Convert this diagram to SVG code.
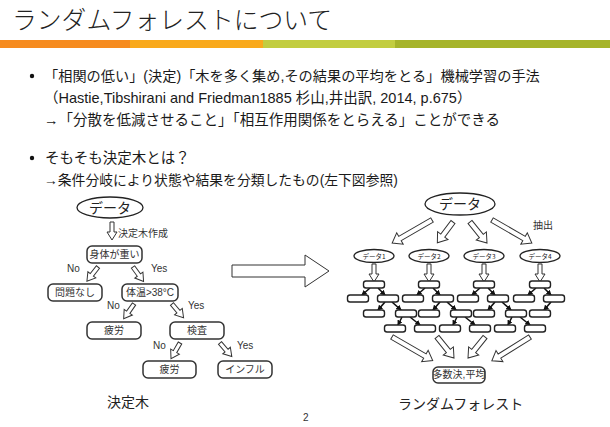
<svg xmlns="http://www.w3.org/2000/svg" xmlns:xlink="http://www.w3.org/1999/xlink" width="610" height="427" viewBox="0 0 610 427">
<defs>
<style>
.t{font-family:"Liberation Sans","Noto Sans CJK JP",sans-serif;fill:#1a1a1a;}
.jp{font-family:"Noto Sans CJK JP",sans-serif;fill:#222;}
.lbl{font-family:"Liberation Sans","Noto Sans CJK JP",sans-serif;fill:#333;font-size:10px;}
.box{fill:#fff;stroke:#333;stroke-width:1.5;}
.fb{fill:#fff;stroke:#222;stroke-width:1.4;}
.ell{fill:#fff;stroke:#222;stroke-width:1.3;}
.ha{fill:#fff;stroke:#333;stroke-width:1;}
.cn{stroke:#111;stroke-width:1.6;fill:none;marker-end:url(#ah);}
</style>
<marker id="ah" viewBox="0 0 6 6" refX="5" refY="3" markerWidth="3.5" markerHeight="3.5" orient="auto">
<path d="M0,0 L6,3 L0,6 Z" fill="#111"/>
</marker>
<path id="arrS" d="M0,-2 H10 V-5 L18,0 L10,5 V2 H0 Z"/>
</defs>
<rect width="610" height="427" fill="#fff"/>

<g id="title">
<text x="12" y="29" class="jp" style="font-size:24.8px;font-weight:300;fill:#222">ランダムフォレストについて</text>
<rect x="0" y="40" width="130" height="8" fill="#F68B1F"/>
<rect x="130" y="40" width="133" height="8" fill="#F9A91B"/>
<rect x="263" y="40" width="132" height="8" fill="#C2CD40"/>
<rect x="395" y="40" width="215" height="8" fill="#A6B42A"/>
</g>

<g id="bullets">
<circle cx="32" cy="76" r="2.2" fill="#111"/>
<text x="44" y="81" class="t" font-size="14.2">「相関の低い」(決定)「木を多く集め,その結果の平均をとる」機械学習の手法</text>
<text x="44" y="103" class="t" font-size="14.5">（Hastie,Tibshirani and Friedman1885 杉山,井出訳, 2014, p.675）</text>
<text x="44" y="125" class="t" font-size="14.5">→「分散を低減させること」「相互作用関係をとらえる」ことができる</text>
<circle cx="32" cy="158" r="2.2" fill="#111"/>
<text x="45" y="163" class="t" font-size="14.5">そもそも決定木とは？</text>
<text x="44" y="185" class="t" font-size="13.8">→条件分岐により状態や結果を分類したもの(左下図参照)</text>
</g>

<g id="connectors">
<use xlink:href="#arrS" class="ha" transform="translate(112,222) rotate(90)"/>
<use xlink:href="#arrS" class="ha" transform="translate(98,267) rotate(128)"/>
<use xlink:href="#arrS" class="ha" transform="translate(133,267) rotate(54)"/>
<use xlink:href="#arrS" class="ha" transform="translate(134,304) rotate(125)"/>
<use xlink:href="#arrS" class="ha" transform="translate(172,304) rotate(50)"/>
<use xlink:href="#arrS" class="ha" transform="translate(180,343) rotate(120)"/>
<use xlink:href="#arrS" class="ha" transform="translate(220,343) rotate(49)"/>
<path d="M232,265 H305 V255 L329,271 L305,287 V277 H232 Z" class="ha" stroke-width="1.2"/>
<path d="M0,-2.5 H37 V-6.5 L46,0 L37,6.5 V2.5 H0 Z" class="ha" transform="translate(432,220) rotate(150)"/>
<path d="M0,-2.5 H17 V-6.5 L26,0 L17,6.5 V2.5 H0 Z" class="ha" transform="translate(453,222) rotate(127)"/>
<path d="M0,-2.5 H18 V-6.5 L27,0 L18,6.5 V2.5 H0 Z" class="ha" transform="translate(470,222) rotate(51)"/>
<path d="M0,-2.5 H37 V-6.5 L46,0 L37,6.5 V2.5 H0 Z" class="ha" transform="translate(492,220) rotate(30)"/>
<use xlink:href="#arrS" class="ha" transform="translate(374,264) rotate(90)"/>
<use xlink:href="#arrS" class="ha" transform="translate(429,264) rotate(90)"/>
<use xlink:href="#arrS" class="ha" transform="translate(484,264) rotate(90)"/>
<use xlink:href="#arrS" class="ha" transform="translate(540,264) rotate(90)"/>
<line class="cn" x1="370" y1="288" x2="362" y2="295"/><line class="cn" x1="378" y1="288" x2="385" y2="295"/>
<line class="cn" x1="385" y1="302" x2="378" y2="310"/><line class="cn" x1="392" y1="302" x2="401" y2="310"/>
<line class="cn" x1="402" y1="317" x2="398" y2="325"/><line class="cn" x1="410" y1="317" x2="420" y2="325"/>
<line class="cn" x1="425" y1="288" x2="417" y2="295"/><line class="cn" x1="433" y1="288" x2="440" y2="295"/>
<line class="cn" x1="440" y1="302" x2="433" y2="310"/><line class="cn" x1="447" y1="302" x2="456" y2="310"/>
<line class="cn" x1="457" y1="317" x2="453" y2="325"/><line class="cn" x1="465" y1="317" x2="475" y2="325"/>
<line class="cn" x1="480" y1="288" x2="472" y2="295"/><line class="cn" x1="488" y1="288" x2="495" y2="295"/>
<line class="cn" x1="495" y1="302" x2="488" y2="310"/><line class="cn" x1="502" y1="302" x2="511" y2="310"/>
<line class="cn" x1="512" y1="317" x2="508" y2="325"/><line class="cn" x1="520" y1="317" x2="530" y2="325"/>
<line class="cn" x1="536" y1="288" x2="528" y2="295"/><line class="cn" x1="544" y1="288" x2="551" y2="295"/>
<line class="cn" x1="551" y1="302" x2="544" y2="310"/>
<path d="M0,-2.5 H38 V-6.5 L47,0 L38,6.5 V2.5 H0 Z" class="ha" transform="translate(392,337) rotate(30)"/>
<path d="M0,-2.5 H18 V-6.5 L27,0 L18,6.5 V2.5 H0 Z" class="ha" transform="translate(437,337) rotate(51)"/>
<path d="M0,-2.5 H18 V-6.5 L27,0 L18,6.5 V2.5 H0 Z" class="ha" transform="translate(485,337) rotate(129)"/>
<path d="M0,-2.5 H36 V-6.5 L45,0 L36,6.5 V2.5 H0 Z" class="ha" transform="translate(530,337) rotate(148)"/>
</g>

<g id="n-data-left"><ellipse cx="110" cy="207.5" rx="33" ry="10.5" class="ell"/><text x="110" y="212.5" text-anchor="middle" class="jp" font-size="14">データ</text></g>
<g id="l-build"><text x="118" y="237" class="lbl">決定木作成</text></g>
<g id="n-body"><rect x="87" y="246" width="55" height="17" rx="5" class="box"/><text x="114.5" y="258" text-anchor="middle" class="lbl">身体が重い</text></g>
<g id="n-nop"><rect x="48" y="284" width="54" height="17" rx="5" class="box"/><text x="75" y="296" text-anchor="middle" class="lbl">問題なし</text></g>
<g id="n-temp"><rect x="122" y="284" width="56" height="17" rx="5" class="box"/><text x="150" y="295.5" text-anchor="middle" class="lbl" font-size="8">体温&gt;38°C</text></g>
<g id="n-tired1"><rect x="87" y="322" width="54" height="17" rx="5" class="box"/><text x="114" y="334" text-anchor="middle" class="lbl">疲労</text></g>
<g id="n-test"><rect x="170" y="322" width="54" height="17" rx="5" class="box"/><text x="197" y="334" text-anchor="middle" class="lbl">検査</text></g>
<g id="n-tired2"><rect x="143" y="361" width="53" height="17" rx="5" class="box"/><text x="169.5" y="373" text-anchor="middle" class="lbl">疲労</text></g>
<g id="n-flu"><rect x="218" y="361" width="54" height="17" rx="5" class="box"/><text x="245" y="373" text-anchor="middle" class="lbl">インフル</text></g>
<g id="edge-labels" class="lbl">
<text x="67" y="272">No</text><text x="151" y="272">Yes</text>
<text x="107" y="309">No</text><text x="188" y="309">Yes</text>
<text x="153" y="349">No</text><text x="237" y="349">Yes</text>
</g>
<g id="cap-left"><text x="107" y="407" class="jp" font-size="14">決定木</text></g>

<g id="n-data-top"><ellipse cx="460" cy="204" rx="35" ry="11" class="ell"/><text x="460" y="209" text-anchor="middle" class="jp" font-size="14">データ</text></g>
<g id="l-extract"><text x="533" y="229" class="lbl">抽出</text></g>
<g id="n-d1"><ellipse cx="374" cy="256" rx="20" ry="6.5" class="ell"/><text x="374" y="258.5" text-anchor="middle" class="jp" font-size="6.5">データ1</text></g>
<g id="n-d2"><ellipse cx="429" cy="256" rx="20" ry="6.5" class="ell"/><text x="429" y="258.5" text-anchor="middle" class="jp" font-size="6.5">データ2</text></g>
<g id="n-d3"><ellipse cx="484" cy="256" rx="20" ry="6.5" class="ell"/><text x="484" y="258.5" text-anchor="middle" class="jp" font-size="6.5">データ3</text></g>
<g id="n-d4"><ellipse cx="540" cy="256" rx="20" ry="6.5" class="ell"/><text x="540" y="258.5" text-anchor="middle" class="jp" font-size="6.5">データ4</text></g>
<g id="tree1">
<rect x="363.5" y="281" width="21" height="7" rx="2.5" class="fb"/>
<rect x="347.5" y="295" width="21" height="7" rx="2.5" class="fb"/><rect x="377.5" y="295" width="21" height="7" rx="2.5" class="fb"/>
<rect x="363.5" y="310" width="21" height="7" rx="2.5" class="fb"/><rect x="395.5" y="310" width="21" height="7" rx="2.5" class="fb"/>
<rect x="384.5" y="325" width="21" height="7" rx="2.5" class="fb"/><rect x="414.5" y="325" width="21" height="7" rx="2.5" class="fb"/>
</g>
<g id="tree2">
<rect x="418.5" y="281" width="21" height="7" rx="2.5" class="fb"/>
<rect x="402.5" y="295" width="21" height="7" rx="2.5" class="fb"/><rect x="432.5" y="295" width="21" height="7" rx="2.5" class="fb"/>
<rect x="418.5" y="310" width="21" height="7" rx="2.5" class="fb"/><rect x="450.5" y="310" width="21" height="7" rx="2.5" class="fb"/>
<rect x="439.5" y="325" width="21" height="7" rx="2.5" class="fb"/><rect x="469.5" y="325" width="21" height="7" rx="2.5" class="fb"/>
</g>
<g id="tree3">
<rect x="473.5" y="281" width="21" height="7" rx="2.5" class="fb"/>
<rect x="457.5" y="295" width="21" height="7" rx="2.5" class="fb"/><rect x="487.5" y="295" width="21" height="7" rx="2.5" class="fb"/>
<rect x="473.5" y="310" width="21" height="7" rx="2.5" class="fb"/><rect x="505.5" y="310" width="21" height="7" rx="2.5" class="fb"/>
<rect x="494.5" y="325" width="21" height="7" rx="2.5" class="fb"/><rect x="524.5" y="325" width="21" height="7" rx="2.5" class="fb"/>
</g>
<g id="tree4">
<rect x="529.5" y="281" width="21" height="7" rx="2.5" class="fb"/>
<rect x="513.5" y="295" width="21" height="7" rx="2.5" class="fb"/><rect x="543.5" y="295" width="21" height="7" rx="2.5" class="fb"/>
<rect x="529.5" y="310" width="21" height="7" rx="2.5" class="fb"/>
</g>
<g id="n-vote"><rect x="433" y="367" width="52" height="16" rx="5" class="box"/><text x="459" y="378" text-anchor="middle" class="lbl" font-size="7.5">多数決,平均</text></g>
<g id="cap-right"><text x="398" y="409" class="jp" font-size="14">ランダムフォレスト</text></g>
<g id="page"><text x="303" y="421" class="lbl" font-size="8">2</text></g>
</svg>
